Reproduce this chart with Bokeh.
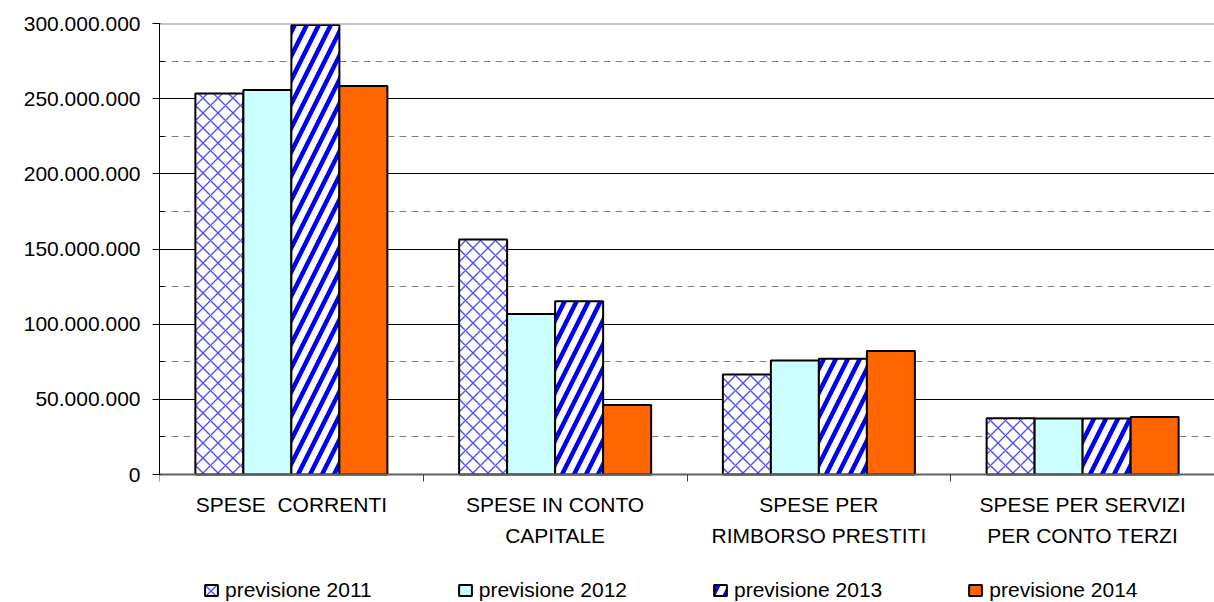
from bokeh.plotting import figure
from bokeh.models import (ColumnDataSource, FixedTicker, Range1d, Span, Legend, LegendItem)
from bokeh.transform import dodge
from bokeh.embed import file_html
from bokeh.resources import INLINE

# ---- data ----
categories = ["SPESE \u00a0CORRENTI", "SPESE IN CONTO\nCAPITALE",
              "SPESE PER\nRIMBORSO PRESTITI", "SPESE PER SERVIZI\nPER CONTO TERZI"]
series_names = ["previsione 2011", "previsione 2012", "previsione 2013", "previsione 2014"]
v2011 = [253500000, 156300000, 66600000, 37500000]
v2012 = [255700000, 106700000, 75900000, 37300000]
v2013 = [299000000, 115200000, 77000000, 37300000]
v2014 = [258400000, 46200000, 82100000, 38200000]
y_ticks = [0, 50000000, 100000000, 150000000, 200000000, 250000000, 300000000]
y_tick_labels = ["0", "50.000.000", "100.000.000", "150.000.000",
                 "200.000.000", "250.000.000", "300.000.000"]
y_minor = [25000000, 75000000, 125000000, 175000000, 225000000, 275000000]

FONT = "Liberation Sans"

# layout: value axis spans 451 px for 0..300M; the frame also holds the
# category labels and legend below zero (128 px)
PLOT_PX = 451
BELOW_PX = 128
YMAX = 300000000
ymin = -YMAX * BELOW_PX / PLOT_PX

centers = [i + 0.5 for i in range(len(categories))]
src = ColumnDataSource(dict(x=centers, v2011=v2011, v2012=v2012, v2013=v2013, v2014=v2014))

p = figure(frame_width=1055, frame_height=PLOT_PX + BELOW_PX, output_backend="svg",
           toolbar_location=None,
           x_range=Range1d(0, 4), y_range=Range1d(ymin, YMAX),
           min_border_left=159, min_border_right=0, min_border_top=23, min_border_bottom=0)
p.outline_line_color = None
p.background_fill_color = "white"

bw = 0.182
styles = [
    dict(fill_color="white", hatch_pattern="diagonal_cross", hatch_color="#4d4dff",
         hatch_scale=15, hatch_weight=1.4),
    dict(fill_color="#CCFFFF"),
    dict(fill_color="white", hatch_pattern="right_diagonal_line", hatch_color="#0000ff",
         hatch_scale=24, hatch_weight=4.5),
    dict(fill_color="#FF6600"),
]
offsets = [-0.273, -0.091, 0.091, 0.273]
cols = ["v2011", "v2012", "v2013", "v2014"]
renderers = []
for col, off, st in zip(cols, offsets, styles):
    r = p.vbar(x=dodge("x", off), top=col, width=bw, bottom=0, source=src,
               line_color="black", line_width=2, **st)
    renderers.append(r)

top_line = Span(location=YMAX, dimension="width", line_color="#888888", line_width=2)
p.add_layout(top_line)

# y axis
p.yaxis.ticker = FixedTicker(ticks=y_ticks, minor_ticks=y_minor)
p.yaxis.bounds = (0, YMAX)
p.yaxis.major_label_overrides = {t: l for t, l in zip(y_ticks, y_tick_labels)}
p.yaxis.major_label_text_font = FONT
p.yaxis.major_label_text_font_size = "21px"
p.yaxis.major_label_text_color = "black"
p.yaxis.major_tick_out = 7
p.yaxis.major_tick_in = 1
p.yaxis.minor_tick_in = 5
p.yaxis.minor_tick_out = 0
p.yaxis.axis_line_color = "black"
p.yaxis.major_tick_line_color = "black"
p.yaxis.minor_tick_line_color = "black"
p.yaxis.major_label_standoff = 12

# grid
p.ygrid.ticker = FixedTicker(ticks=y_ticks[1:], minor_ticks=y_minor)
p.ygrid.grid_line_color = "black"
p.ygrid.grid_line_width = 1
p.ygrid.minor_grid_line_color = "#808080"
p.ygrid.minor_grid_line_dash = "7 5"
p.ygrid.minor_grid_line_width = 1.2
p.xgrid.grid_line_color = None

# x axis, fixed at zero
p.xaxis.fixed_location = 0
p.xaxis.ticker = FixedTicker(ticks=centers, minor_ticks=[0, 1, 2, 3, 4])
p.xaxis.major_label_overrides = {c: l for c, l in zip(centers, categories)}
p.xaxis.major_label_text_font = FONT
p.xaxis.major_label_text_font_size = "21px"
p.xaxis.major_label_text_color = "black"
p.xaxis.major_label_text_line_height = 1.35
p.xaxis.major_tick_line_color = None
p.xaxis.minor_tick_out = 7
p.xaxis.minor_tick_in = 0
p.xaxis.minor_tick_line_color = "#404040"
p.xaxis.axis_line_color = "#606060"
p.xaxis.axis_line_width = 2
p.xaxis.major_label_standoff = 11

legend = Legend(items=[LegendItem(label=n, renderers=[r]) for n, r in zip(series_names, renderers)],
                orientation="horizontal", location=(44, 0))
legend.label_text_font = FONT
legend.label_text_font_size = "21px"
legend.label_text_color = "black"
legend.glyph_width = 16
legend.glyph_height = 14
legend.label_standoff = 6
legend.spacing = 85
legend.padding = 0
legend.margin = 0
legend.border_line_color = None
legend.background_fill_alpha = 0
p.add_layout(legend, "center")

open("out.html", "w").write(file_html(p, INLINE))
